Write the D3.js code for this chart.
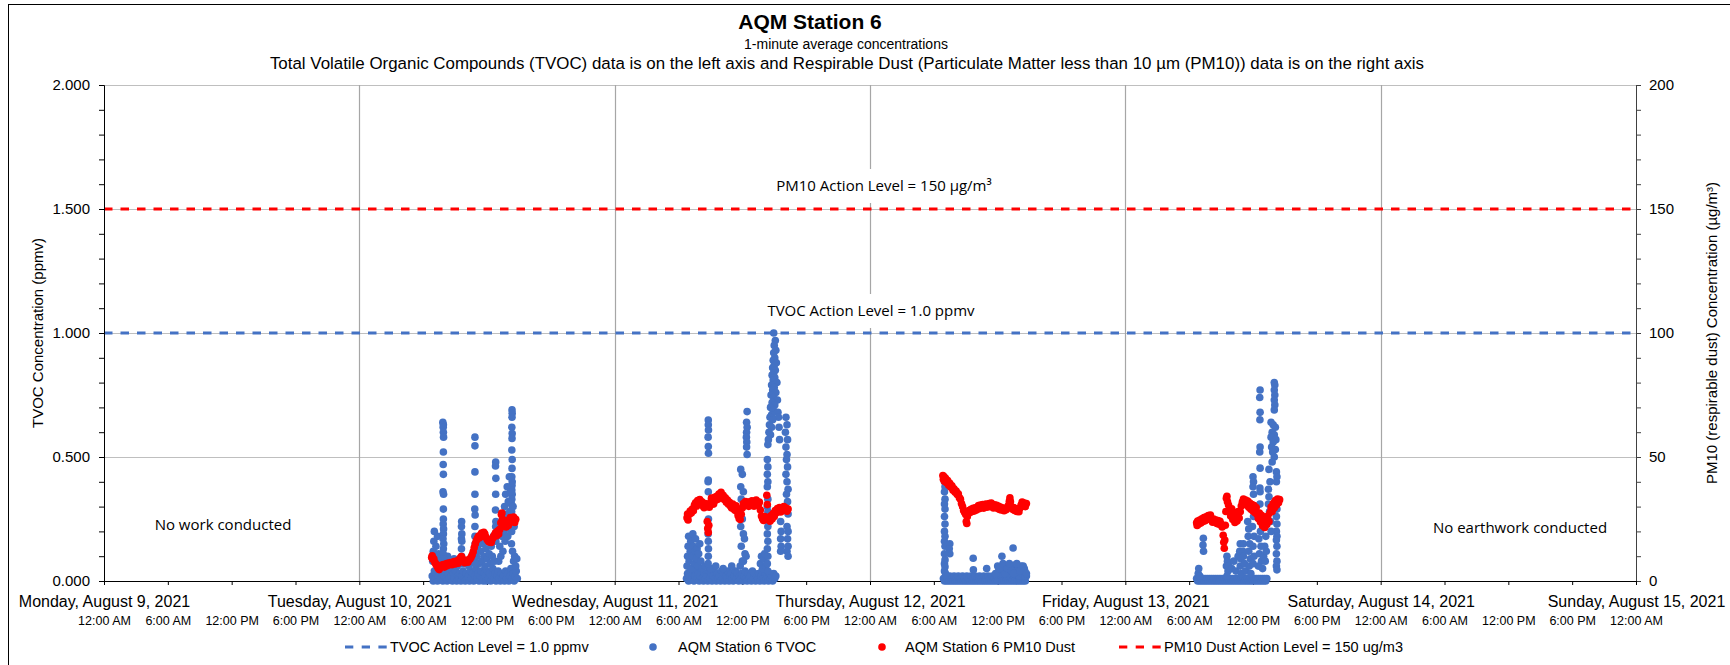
<!DOCTYPE html>
<html><head><meta charset="utf-8">
<script src="https://cdn.jsdelivr.net/npm/d3@7"></script>
<style>
html,body{margin:0;padding:0;background:#fff;}
svg{display:block;}
</style></head>
<body>
<svg id="chart" width="1730" height="665"></svg>
<script>
// ---------------- text ----------------
const chartTitle = "AQM Station 6";
const subTitle1 = "1-minute average concentrations";
const subTitle2 = "Total Volatile Organic Compounds (TVOC) data is on the left axis and Respirable Dust (Particulate Matter less than 10 µm (PM10)) data is on the right axis";
const leftAxisTitle = "TVOC Concentration (ppmv)";
const rightAxisTitle = "PM10 (respirable dust) Concentration (µg/m³)";
const legendLabels = ["TVOC Action Level = 1.0 ppmv", "AQM Station 6 TVOC", "AQM Station 6 PM10 Dust", "PM10 Dust Action Level = 150 ug/m3"];
const noteLeft = "No work conducted";
const noteRight = "No earthwork conducted";
const pm10LevelLabel = "PM10 Action Level = 150 µg/m³";
const tvocLevelLabel = "TVOC Action Level = 1.0 ppmv";

// ---------------- axes ----------------
const tvocTicks = [0, 0.5, 1.0, 1.5, 2.0];
const pm10Ticks = [0, 50, 100, 150, 200];
const tvocActionLevel = 1.0;
const pm10ActionLevel = 150;
const firstDay = 9, lastDay = 15; // August 2021

// ---------------- data: [hour of day, value] ----------------
const tvocAug10 = [
[6.85,0.02],[6.95,0.0],[7.05,0.04],[7.15,0.01],[7.25,0.03],[7.35,0.0],[7.45,0.02],[7.55,0.05],[7.65,0.01],[7.75,0.03],[7.85,0.0],[7.95,0.02],[8.05,0.04],[8.15,0.01],[8.25,0.0],[8.35,0.03],[8.45,0.01],[8.55,0.05],[8.65,0.02],[8.75,0.0],[8.85,0.03],[8.95,0.01],[9.05,0.04],[9.15,0.0],[9.25,0.02],[9.35,0.01],[9.45,0.03],[9.55,0.0],[9.65,0.02],[9.75,0.04],[9.85,0.01],[9.95,0.0],[10.05,0.03],[10.15,0.01],[10.25,0.02],[10.35,0.0],[10.45,0.04],[10.55,0.01],[10.65,0.03],[10.75,0.0],[10.85,0.02],[10.95,0.05],[11.05,0.01],[11.15,0.03],[11.25,0.0],[11.35,0.02],[11.45,0.04],[11.55,0.01],[11.65,0.0],[11.75,0.03],[11.85,0.02],[11.95,0.0],[12.05,0.04],[12.15,0.01],[12.25,0.03],[12.35,0.0],[12.45,0.02],[12.55,0.05],[12.65,0.01],[12.75,0.03],[12.85,0.0],[12.95,0.02],[13.05,0.04],[13.15,0.01],[13.25,0.0],[13.35,0.03],[13.45,0.01],[13.55,0.02],[13.65,0.0],[13.75,0.04],[13.85,0.01],[13.95,0.03],[14.05,0.0],[14.15,0.02],[14.25,0.05],[14.35,0.01],[14.45,0.03],[14.55,0.0],[14.65,0.02],[14.75,0.04],[14.85,0.01],
[6.9,0.08],[6.95,0.12],[7.0,0.16],[7.05,0.2],[7.1,0.1],[7.2,0.14],[7.3,0.07],[7.35,0.18],[7.45,0.11],[7.55,0.09],[8.05,0.08],[8.3,0.1],[8.6,0.07],[8.9,0.09],[9.2,0.06],[9.9,0.07],[10.3,0.06],[10.6,0.08],
[11.0,0.1],[11.1,0.14],[11.2,0.07],[11.3,0.17],[11.4,0.12],[11.5,0.08],[11.6,0.15],[11.7,0.1],[11.8,0.06],[11.9,0.13],[12.0,0.09],[12.1,0.16],[12.2,0.11],[12.3,0.07],[12.4,0.14],[12.5,0.1],[12.6,0.18],[12.7,0.08],
[7.85,0.64],[7.9,0.63],[7.88,0.62],[7.9,0.60],[7.92,0.58],[7.9,0.52],[7.88,0.47],[7.9,0.43],[7.87,0.36],[7.92,0.35],[7.9,0.29],[7.9,0.25],[7.88,0.23],[7.92,0.21],[7.9,0.19],[7.86,0.17],[7.94,0.15],[7.9,0.13],[7.88,0.11],[7.92,0.09],[7.9,0.07],
[9.62,0.24],[9.6,0.22],[9.64,0.19],[9.6,0.17],[9.63,0.16],[9.6,0.13],[9.62,0.1],[9.6,0.07],
[10.87,0.58],[10.87,0.545],[10.87,0.44],[10.87,0.35],[10.85,0.29],[10.88,0.266],[10.87,0.22],[10.86,0.18],[10.88,0.15],[10.87,0.12],[10.85,0.09],[10.88,0.07],
[12.82,0.48],[12.8,0.464],[12.84,0.414],[12.82,0.35],[12.8,0.286],[12.83,0.24],[12.82,0.22],[12.8,0.19],[12.84,0.16],
[14.35,0.69],[14.37,0.676],[14.35,0.66],[14.33,0.62],[14.36,0.595],[14.35,0.575],[14.34,0.528],[14.36,0.49],[14.35,0.454],[14.33,0.42],[14.36,0.4],[14.35,0.385],[14.33,0.367],[14.36,0.35],[14.34,0.33],[14.3,0.31],[14.36,0.3],[14.32,0.28],[14.38,0.26],[14.3,0.24],[14.36,0.22],[14.32,0.2],
[13.1,0.08],[13.2,0.14],[13.3,0.1],[13.4,0.18],[13.5,0.12],[13.55,0.25],[13.6,0.2],[13.65,0.3],[13.7,0.16],[13.75,0.35],[13.8,0.22],[13.85,0.27],[13.9,0.38],[13.95,0.18],[14.0,0.32],[14.05,0.24],[14.1,0.42],[14.15,0.28],[14.2,0.36],[14.25,0.2],[14.3,0.15],[14.4,0.12],[14.45,0.3],[14.5,0.08],[14.55,0.22],[14.6,0.1],[14.7,0.06],[14.8,0.09]
];
const tvocAug11 = [
[6.75,0.01],[6.85,0.03],[6.95,0.0],[7.05,0.02],[7.15,0.04],[7.25,0.01],[7.35,0.03],[7.45,0.0],[7.55,0.02],[7.65,0.05],[7.75,0.01],[7.85,0.03],[7.95,0.0],[8.05,0.02],[8.15,0.04],[8.25,0.01],[8.35,0.0],[8.45,0.03],[8.55,0.01],[8.65,0.02],[8.75,0.0],[8.85,0.04],[8.95,0.01],[9.05,0.03],[9.15,0.0],[9.25,0.02],[9.35,0.05],[9.45,0.01],[9.55,0.0],[9.65,0.03],[9.75,0.01],[9.85,0.02],[9.95,0.0],[10.05,0.04],[10.15,0.01],[10.25,0.03],[10.35,0.0],[10.45,0.02],[10.55,0.01],[10.65,0.04],[10.75,0.0],[10.85,0.02],[10.95,0.03],[11.05,0.01],[11.15,0.0],[11.25,0.02],[11.35,0.04],[11.45,0.01],[11.55,0.03],[11.65,0.0],[11.75,0.02],[11.85,0.01],[11.95,0.03],[12.05,0.0],[12.15,0.02],[12.25,0.04],[12.35,0.01],[12.45,0.0],[12.55,0.03],[12.65,0.01],[12.75,0.02],[12.85,0.0],[12.95,0.04],[13.05,0.01],[13.15,0.03],[13.25,0.0],[13.35,0.02],[13.45,0.01],[13.55,0.03],[13.65,0.0],[13.75,0.02],[13.85,0.04],[13.95,0.01],[14.05,0.0],[14.15,0.03],[14.25,0.01],[14.35,0.02],[14.45,0.0],[14.55,0.03],[14.65,0.01],[14.75,0.02],[14.85,0.0],[14.95,0.03],[15.05,0.01],[15.15,0.02],
[6.8,0.06],[6.85,0.1],[6.9,0.14],[6.95,0.18],[7.0,0.08],[7.1,0.12],[7.15,0.16],[7.2,0.05],[7.3,0.1],[7.35,0.19],[7.4,0.14],[7.5,0.07],[7.55,0.12],[7.6,0.17],[7.7,0.09],[7.75,0.13],[7.8,0.06],[7.9,0.11],[8.0,0.15],[8.1,0.08],[8.2,0.05],[8.5,0.06],[9.0,0.05],[9.5,0.06],[10.2,0.05],[11.0,0.06],
[13.7,0.07],[13.8,0.1],[13.9,0.05],[14.0,0.09],[14.1,0.11],[14.2,0.06],
[8.8,0.649],[8.8,0.63],[8.82,0.609],[8.78,0.58],[8.8,0.542],[8.82,0.515],[8.8,0.407],[8.78,0.4],[8.8,0.36],[8.8,0.3],[8.82,0.25],[8.78,0.19],[8.8,0.16],[8.82,0.13],[8.8,0.1],[8.78,0.07],
[12.45,0.683],[12.4,0.64],[12.45,0.62],[12.4,0.6],[12.38,0.58],[12.42,0.56],[12.4,0.54],[12.45,0.51],[11.85,0.45],[12.0,0.43],[11.85,0.38],[12.1,0.36],[11.9,0.33],[12.0,0.25],[11.85,0.22],[12.1,0.19],[12.2,0.17],[11.9,0.14],[12.25,0.11],[12.0,0.08],[11.8,0.06],[12.35,0.1],[12.1,0.08],
[14.95,1.0],[15.1,0.97],[15.0,0.95],[15.15,0.93],[14.95,0.92],[15.05,0.9],[14.9,0.89],[15.2,0.88],[15.0,0.87],[14.85,0.86],[15.1,0.85],[14.95,0.84],[14.8,0.83],[15.05,0.82],[14.9,0.81],[15.25,0.8],[14.75,0.79],[15.0,0.78],[14.85,0.77],[15.15,0.76],[14.7,0.75],[14.95,0.74],[15.3,0.73],[14.8,0.72],[15.05,0.71],[14.65,0.7],[14.9,0.69],[15.35,0.68],[14.75,0.67],[15.4,0.66],[14.6,0.66],[14.85,0.65],[14.55,0.63],[14.75,0.62],[15.45,0.62],[14.5,0.6],[14.65,0.59],[14.45,0.57],[15.5,0.57],[14.4,0.55],
[14.35,0.49],[14.4,0.46],[14.35,0.43],[14.4,0.4],[14.35,0.38],[14.4,0.33],[14.35,0.3],[14.4,0.28],[14.35,0.25],[14.4,0.22],[14.35,0.19],[14.4,0.16],[14.35,0.13],[14.4,0.1],[14.35,0.07],[14.4,0.04],
[16.1,0.66],[16.2,0.63],[16.05,0.6],[16.25,0.57],[16.1,0.54],[16.2,0.51],[16.15,0.49],[16.25,0.46],[16.1,0.43],[16.2,0.4],[16.3,0.37],[16.15,0.35],[16.25,0.32],[16.1,0.29],[16.3,0.27],[15.6,0.24],[16.2,0.22],[15.65,0.2],[16.3,0.2],[15.6,0.17],[16.25,0.17],[15.65,0.14],[16.3,0.14],[15.6,0.12],[16.2,0.12],[16.3,0.1]
];
const tvocAug12 = [
[6.9,0.01],[7.0,0.0],[7.1,0.02],[7.2,0.0],[7.3,0.01],[7.4,0.0],[7.5,0.02],[7.6,0.0],[7.7,0.01],[7.8,0.0],[7.9,0.02],[8.0,0.0],[8.1,0.01],[8.2,0.0],[8.3,0.02],[8.4,0.0],[8.5,0.01],[8.6,0.0],[8.7,0.02],[8.8,0.0],[8.9,0.01],[9.0,0.0],[9.1,0.02],[9.2,0.0],[9.3,0.01],[9.4,0.0],[9.5,0.02],[9.6,0.0],[9.7,0.01],[9.8,0.0],[9.9,0.02],[10.0,0.0],[10.1,0.01],[10.2,0.0],[10.3,0.02],[10.4,0.0],[10.5,0.01],[10.6,0.0],[10.7,0.02],[10.8,0.0],[10.9,0.01],[11.0,0.0],[11.1,0.02],[11.2,0.0],[11.3,0.01],[11.4,0.0],[11.5,0.02],[11.6,0.0],[11.7,0.01],[11.8,0.0],[11.9,0.02],[12.0,0.0],[12.1,0.01],[12.2,0.0],[12.3,0.02],[12.4,0.0],[12.5,0.01],[12.6,0.0],[12.7,0.02],[12.8,0.0],[12.9,0.01],[13.0,0.0],[13.1,0.02],[13.2,0.0],[13.3,0.01],[13.4,0.0],[13.5,0.02],[13.6,0.0],[13.7,0.01],[13.8,0.0],[13.9,0.02],[14.0,0.0],[14.1,0.01],[14.2,0.0],[14.3,0.02],[14.4,0.0],[14.5,0.01],[14.6,0.0],[14.7,0.02],
[6.95,0.42],[7.0,0.4],[7.05,0.38],[7.0,0.36],[7.05,0.33],[7.0,0.31],[7.05,0.29],[7.0,0.26],[7.05,0.23],[7.0,0.2],[7.05,0.18],[7.0,0.16],[7.05,0.14],[7.5,0.15],[7.45,0.13],[7.5,0.11],[7.0,0.11],[7.05,0.085],[7.0,0.07],[7.05,0.057],[7.0,0.04],[7.1,0.03],
[9.7,0.092],[9.72,0.045],[10.97,0.05],[12.4,0.1],[12.2,0.05],[12.3,0.03],[13.45,0.133],[13.6,0.064],[13.7,0.04],[13.9,0.05],[14.0,0.02],[14.2,0.06],[14.3,0.03],[14.5,0.05],[14.6,0.02],[12.6,0.04],[12.8,0.06],[13.0,0.03],[13.2,0.05],[11.8,0.03],[12.0,0.06],
[12.1,0.05],[12.5,0.07],[12.7,0.03],[12.9,0.05],[13.1,0.07],[13.3,0.04],[13.5,0.03],[13.8,0.07],[14.1,0.04],[14.4,0.06],[14.55,0.04],[14.7,0.03]
];
const tvocAug13 = [
[6.7,0.01],[6.8,0.0],[6.9,0.01],[7.0,0.0],[7.1,0.01],[7.2,0.0],[7.3,0.01],[7.4,0.0],[7.5,0.01],[7.6,0.0],[7.7,0.01],[7.8,0.0],[7.9,0.01],[8.0,0.0],[8.1,0.01],[8.2,0.0],[8.3,0.01],[8.4,0.0],[8.5,0.01],[8.6,0.0],[8.7,0.01],[8.8,0.0],[8.9,0.01],[9.0,0.0],[9.1,0.01],[9.2,0.0],[9.3,0.01],[9.4,0.0],[9.5,0.01],[9.6,0.0],[9.7,0.01],[9.8,0.0],[9.9,0.01],[10.0,0.0],[10.1,0.01],[10.2,0.0],[10.3,0.01],[10.4,0.0],[10.5,0.01],[10.6,0.0],[10.7,0.01],[10.8,0.0],[10.9,0.01],[11.0,0.0],[11.1,0.01],[11.2,0.0],[11.3,0.01],[11.4,0.0],[11.5,0.01],[11.6,0.0],[11.7,0.01],[11.8,0.0],[11.9,0.01],[12.0,0.0],[12.1,0.01],[12.2,0.0],[12.3,0.01],[12.4,0.0],[12.5,0.01],[12.6,0.0],[12.7,0.01],[12.8,0.0],[12.9,0.01],[13.0,0.0],[13.1,0.01],[13.2,0.0],[13.3,0.01],
[6.85,0.03],[7.0,0.02],[6.9,0.05],
[7.33,0.172],[7.3,0.145],[7.35,0.12],
[9.55,0.1],[9.6,0.08],[9.5,0.06],[9.65,0.04],[9.55,0.02],[9.7,0.06],
[10.0,0.05],[10.2,0.08],[10.4,0.04],[10.6,0.1],[10.8,0.15],[10.75,0.12],[10.85,0.09],[10.8,0.06],[10.9,0.03],
[11.1,0.15],[11.05,0.12],[11.1,0.1],[11.2,0.07],[11.3,0.04],
[11.5,0.24],[11.6,0.21],[11.55,0.18],[11.7,0.15],[11.6,0.12],[11.75,0.09],[11.65,0.06],[11.8,0.03],
[12.0,0.42],[12.05,0.4],[12.0,0.38],[12.05,0.35],[12.0,0.3],[12.05,0.26],[11.95,0.22],[12.1,0.18],[12.0,0.14],[12.1,0.1],[12.0,0.07],
[12.66,0.77],[12.64,0.74],[12.66,0.68],[12.65,0.65],[12.66,0.54],[12.64,0.52],[12.66,0.455],[12.65,0.375],[12.67,0.36],[12.65,0.31],[12.6,0.25],[12.7,0.2],[12.55,0.17],[12.75,0.14],[12.6,0.11],[12.8,0.08],[12.5,0.06],[12.9,0.05],[13.0,0.1],[13.1,0.14],[13.2,0.18],[13.15,0.08],[13.25,0.12],
[14.0,0.8],[14.05,0.79],[14.0,0.77],[14.05,0.75],[14.0,0.73],[14.05,0.71],[14.0,0.69],[13.7,0.64],[13.9,0.63],[14.1,0.62],[13.8,0.6],[14.0,0.59],[13.7,0.58],[14.15,0.57],[13.9,0.56],[13.75,0.54],[14.1,0.53],[13.85,0.52],[14.0,0.5],[13.8,0.48],[14.2,0.44],[14.25,0.42],[14.2,0.4],[13.45,0.37],[13.5,0.34],[13.45,0.31],[14.25,0.29],[14.2,0.26],[14.25,0.23],[14.2,0.2],[14.25,0.18],[14.2,0.165],[14.25,0.14],[14.2,0.11],[14.25,0.08],[14.2,0.06],[14.25,0.045],
[13.5,0.45],[13.6,0.4],[13.55,0.28],[13.65,0.24],[13.7,0.2]
];

const pm10Aug10 = [
[6.8,9.5],[6.85,10.2],[6.9,8.8],[7.0,9.0],[7.1,7.5],[7.2,6.8],[7.3,6.0],[7.4,5.2],[7.5,4.6],[7.6,5.5],[7.7,6.3],[7.8,5.9],[7.9,6.6],[8.0,5.6],[8.1,6.4],[8.2,7.0],[8.3,6.2],[8.4,7.2],[8.5,6.8],[8.6,7.4],[8.7,6.6],[8.8,7.3],[8.9,7.8],[9.0,6.9],[9.1,7.5],[9.2,8.1],[9.3,7.2],[9.4,8.6],[9.5,9.4],[9.6,9.9],[9.7,8.8],[9.8,8.0],[9.9,7.4],[10.0,7.9],[10.1,8.3],[10.2,7.6],[10.3,8.5],[10.4,8.9],[10.5,9.6],[10.6,10.5],[10.7,11.8],[10.8,13.5],[10.9,15.0],[11.0,16.3],[11.1,17.2],[11.2,18.0],[11.3,17.4],[11.4,18.6],[11.5,19.3],[11.6,18.7],[11.7,19.6],[11.8,18.9],[11.9,17.6],[12.0,16.8],[12.1,16.2],[12.2,15.7],[12.3,16.4],[12.4,15.5],[12.5,16.9],[12.6,17.8],[12.7,18.5],[12.8,19.4],[12.9,18.2],[13.0,20.1],[13.1,19.0],[13.2,20.8],[13.3,23.5],[13.35,26.8],[13.4,27.4],[13.45,25.0],[13.5,23.0],[13.6,22.2],[13.7,24.3],[13.8,21.8],[13.9,23.6],[14.0,22.4],[14.1,24.8],[14.2,25.6],[14.3,23.9],[14.4,24.6],[14.5,25.8],[14.6,23.6],[14.7,24.9]
];
const pm10Aug11 = [
[6.8,25.5],[6.85,27.0],[6.9,24.6],[7.0,26.8],[7.1,28.2],[7.2,27.4],[7.3,29.0],[7.4,28.3],[7.5,30.6],[7.6,31.5],[7.7,30.2],[7.8,32.4],[7.9,31.0],[8.0,32.8],[8.1,30.7],[8.2,31.9],[8.3,30.4],[8.4,29.6],[8.5,31.2],[8.6,30.0],[8.7,24.0],[8.75,21.2],[8.8,19.6],[8.85,22.5],[8.9,29.8],[9.0,31.6],[9.1,33.4],[9.2,32.1],[9.3,31.0],[9.4,33.8],[9.5,32.6],[9.6,34.2],[9.7,33.0],[9.8,35.1],[9.9,34.0],[10.0,35.8],[10.1,33.7],[10.2,34.6],[10.3,32.9],[10.4,33.5],[10.5,31.8],[10.6,32.6],[10.7,30.9],[10.8,31.7],[10.9,30.1],[11.0,29.4],[11.1,31.0],[11.2,29.8],[11.3,28.5],[11.4,30.3],[11.5,28.0],[11.6,26.4],[11.7,25.2],[11.8,24.8],[11.9,26.9],[12.0,29.5],[12.1,31.2],[12.2,30.4],[12.3,32.0],[12.4,30.8],[12.5,31.6],[12.6,30.1],[12.7,31.9],[12.8,30.6],[12.9,32.3],[13.0,31.1],[13.1,30.2],[13.2,31.5],[13.3,32.6],[13.4,31.0],[13.5,30.5],[13.6,31.8],[13.7,28.6],[13.8,26.2],[13.9,25.1],[14.0,24.4],[14.1,26.0],[14.2,25.3],[14.3,34.6],[14.35,30.8],[14.4,24.8],[14.5,25.7],[14.6,24.1],[14.7,26.3],[14.8,25.0],[14.9,27.2],[15.0,26.0],[15.1,28.4],[15.2,27.5],[15.3,29.2],[15.4,28.0],[15.5,29.6],[15.6,27.8],[15.7,29.0],[15.8,28.3],[15.9,30.0],[16.0,28.7],[16.1,29.4],[16.2,28.1],[16.3,29.0]
];
const pm10Aug12 = [
[6.85,42.5],[6.9,41.0],[6.95,42.0],[7.0,40.2],[7.1,41.4],[7.2,39.6],[7.3,40.5],[7.4,38.6],[7.5,39.4],[7.6,37.8],[7.7,38.4],[7.8,36.6],[7.9,37.2],[8.0,35.8],[8.1,36.3],[8.2,34.9],[8.3,35.2],[8.4,33.6],[8.5,33.0],[8.6,31.2],[8.7,30.0],[8.8,28.4],[8.9,27.6],[9.0,26.8],[9.05,24.0],[9.1,23.2],[9.15,26.0],[9.2,27.8],[9.3,28.4],[9.4,27.6],[9.5,28.9],[9.6,28.0],[9.7,29.3],[9.8,28.2],[9.9,29.5],[10.0,28.6],[10.1,29.8],[10.2,30.4],[10.3,29.2],[10.4,30.6],[10.5,29.6],[10.6,30.8],[10.7,29.4],[10.8,30.2],[10.9,31.0],[11.0,29.8],[11.1,30.6],[11.2,31.2],[11.3,30.0],[11.4,31.4],[11.5,30.3],[11.6,29.5],[11.7,30.7],[11.8,29.9],[11.9,30.5],[12.0,29.2],[12.1,30.1],[12.2,28.8],[12.3,29.7],[12.4,28.6],[12.5,29.4],[12.6,28.3],[12.7,29.1],[12.8,28.7],[12.9,29.6],[13.0,30.4],[13.1,32.2],[13.15,33.5],[13.2,32.0],[13.3,29.8],[13.4,28.9],[13.5,29.6],[13.6,28.4],[13.7,29.2],[13.8,28.0],[13.9,28.8],[14.0,27.9],[14.1,29.4],[14.2,30.6],[14.3,31.8],[14.4,30.2],[14.5,31.4],[14.6,30.0],[14.7,31.2]
];
const pm10Aug13 = [
[6.7,23.5],[6.75,22.4],[6.8,24.2],[6.9,23.0],[7.0,24.6],[7.1,23.4],[7.2,25.1],[7.3,24.0],[7.4,25.6],[7.5,24.3],[7.6,25.9],[7.7,24.8],[7.8,26.4],[7.9,25.2],[8.0,26.6],[8.1,24.9],[8.2,23.7],[8.3,25.0],[8.4,23.8],[8.5,24.6],[8.6,23.2],[8.7,24.4],[8.8,22.9],[8.9,24.1],[9.0,23.0],[9.1,21.8],[9.2,18.4],[9.25,15.6],[9.3,13.2],[9.35,16.5],[9.4,22.5],[9.45,28.0],[9.5,33.4],[9.55,34.2],[9.6,32.0],[9.7,30.6],[9.8,28.4],[9.9,26.2],[10.0,29.1],[10.1,24.8],[10.2,27.5],[10.3,23.6],[10.4,26.8],[10.5,24.2],[10.6,28.0],[10.7,25.4],[10.8,27.9],[10.9,30.2],[11.0,31.8],[11.1,33.0],[11.2,31.4],[11.3,32.6],[11.4,30.6],[11.5,32.2],[11.6,29.8],[11.7,31.4],[11.8,28.9],[11.9,30.8],[12.0,28.2],[12.1,30.4],[12.2,27.5],[12.3,29.6],[12.4,26.8],[12.5,25.2],[12.6,27.4],[12.7,23.8],[12.8,26.5],[12.9,22.3],[13.0,25.8],[13.1,21.6],[13.2,24.9],[13.3,22.8],[13.4,26.2],[13.5,24.0],[13.6,27.6],[13.7,29.8],[13.8,28.0],[13.9,31.2],[14.0,29.4],[14.1,32.4],[14.2,30.5],[14.3,33.0],[14.4,31.6],[14.5,32.8]
];

// ---------------- build ----------------
const toDate = (day, h) => new Date(2021, 7, day, 0, Math.round(h * 60));
const tvocSeries = [[10, tvocAug10], [11, tvocAug11], [12, tvocAug12], [13, tvocAug13]]
  .flatMap(([day, arr]) => arr.map(([h, v]) => ({t: toDate(day, h), v})));
const pm10Series = [[10, pm10Aug10], [11, pm10Aug11], [12, pm10Aug12], [13, pm10Aug13]]
  .flatMap(([day, arr]) => arr.map(([h, v]) => ({t: toDate(day, h), v})));

const FONT = "'Liberation Sans', Arial, sans-serif";
const NOTEFONT = "'Open Sans', 'Noto Sans', sans-serif";
const BLUE = "#4472C4", RED = "#FF0000";

const svg = d3.select("#chart");
const M = {left: 104, right: 1636, top: 85, bottom: 581};

const x = d3.scaleTime().domain([new Date(2021, 7, firstDay), new Date(2021, 7, lastDay)]).range([M.left, M.right]);
const yL = d3.scaleLinear().domain([0, 2]).range([M.bottom, M.top]);
const yR = d3.scaleLinear().domain([0, 200]).range([M.bottom, M.top]);

// outer chart border
svg.append("rect").attr("x", 8.5).attr("y", 4.5).attr("width", 1760).attr("height", 700)
  .attr("fill", "none").attr("stroke", "#000").attr("stroke-width", 1);

// titles
svg.append("text").attr("x", 810).attr("y", 29).attr("text-anchor", "middle")
  .attr("font-family", FONT).attr("font-size", 21).attr("font-weight", "bold").text(chartTitle);
svg.append("text").attr("x", 846).attr("y", 49).attr("text-anchor", "middle")
  .attr("font-family", FONT).attr("font-size", 14).text(subTitle1);
svg.append("text").attr("x", 847).attr("y", 69).attr("text-anchor", "middle")
  .attr("font-family", FONT).attr("font-size", 16.9).text(subTitle2);

// gridlines
const days = d3.timeDay.range(new Date(2021, 7, firstDay), d3.timeDay.offset(new Date(2021, 7, lastDay), 1));
svg.append("g").selectAll("line").data(tvocTicks.filter(d => d > 0)).join("line")
  .attr("x1", M.left).attr("x2", M.right).attr("y1", d => yL(d) + 0.5).attr("y2", d => yL(d) + 0.5)
  .attr("stroke", "#BFBFBF").attr("stroke-width", 1);
svg.append("g").selectAll("line").data(days.slice(1, -1)).join("line")
  .attr("x1", d => Math.round(x(d)) + 0.5).attr("x2", d => Math.round(x(d)) + 0.5)
  .attr("y1", M.top).attr("y2", M.bottom)
  .attr("stroke", "#A6A6A6").attr("stroke-width", 1.2);

// label boxes for action level labels (mask gridline)
const pmLab = svg.append("g");
const tvLab = svg.append("g");

// action level lines
const dashLine = d3.line().x(d => x(d[0])).y(d => d[1]);
const xEnds = x.domain();
svg.append("path").attr("d", dashLine(xEnds.map(t => [t, yL(tvocActionLevel)])))
  .attr("stroke", BLUE).attr("stroke-width", 3).attr("stroke-dasharray", "8.5,8").attr("fill", "none");
svg.append("path").attr("d", dashLine(xEnds.map(t => [t, yR(pm10ActionLevel)])))
  .attr("stroke", RED).attr("stroke-width", 3).attr("stroke-dasharray", "8.5,8").attr("fill", "none");

// axes
const minorL = d3.range(0, 2.0001, 0.1).map(d => +d.toFixed(1));
const axL = d3.axisLeft(yL).tickValues(minorL).tickSize(5).tickPadding(9)
  .tickFormat(d => tvocTicks.some(t => Math.abs(t - d) < 1e-6) ? d3.format(".3f")(d) : "");
const gL = svg.append("g").attr("transform", `translate(${M.left},0)`).call(axL);
gL.select(".domain").attr("stroke", "#000");
gL.selectAll(".tick line").attr("stroke", "#000");
gL.selectAll("text").attr("font-family", FONT).attr("font-size", 15).attr("fill", "#000");

const minorR = d3.range(0, 201, 10);
const axR = d3.axisRight(yR).tickValues(minorR).tickSize(5).tickPadding(8)
  .tickFormat(d => pm10Ticks.includes(d) ? d3.format("d")(d) : "");
const gR = svg.append("g").attr("transform", `translate(${M.right},0)`).call(axR);
gR.select(".domain").attr("stroke", "#404040");
gR.selectAll(".tick line").attr("stroke", "#404040");
gR.selectAll("text").attr("font-family", FONT).attr("font-size", 15).attr("fill", "#000");

const axB = d3.axisBottom(x).ticks(d3.timeHour.every(6)).tickSize(4)
  .tickFormat(d3.timeFormat("%-I:%M %p"));
const gB = svg.append("g").attr("transform", `translate(0,${M.bottom})`).call(axB);
gB.select(".domain").attr("stroke", "#000");
gB.selectAll(".tick line").attr("stroke", "#000");
gB.selectAll("text").attr("font-family", FONT).attr("font-size", 12.5).attr("fill", "#000")
  .attr("y", 40).attr("dy", "0.35em");

const axD = d3.axisBottom(x).ticks(d3.timeDay.every(1)).tickSize(0)
  .tickFormat(d3.timeFormat("%A, %B %-d, %Y"));
const gD = svg.append("g").attr("transform", `translate(0,${M.bottom})`).call(axD);
gD.select(".domain").remove();
gD.selectAll("text").attr("font-family", FONT).attr("font-size", 16).attr("fill", "#000")
  .attr("y", 20).attr("dy", "0.35em");

// axis titles
svg.append("text").attr("transform", `translate(38,${(M.top + M.bottom) / 2}) rotate(-90)`)
  .attr("text-anchor", "middle").attr("dy", "0.35em").attr("font-family", FONT).attr("font-size", 15)
  .text(leftAxisTitle);
svg.append("text").attr("transform", `translate(1712,${(M.top + M.bottom) / 2}) rotate(-90)`)
  .attr("text-anchor", "middle").attr("dy", "0.35em").attr("font-family", FONT).attr("font-size", 15)
  .text(rightAxisTitle);

// data points
svg.append("g").selectAll("circle").data(tvocSeries).join("circle")
  .attr("cx", d => x(d.t)).attr("cy", d => yL(d.v)).attr("r", 3.8).attr("fill", BLUE);
svg.append("g").selectAll("circle").data(pm10Series).join("circle")
  .attr("cx", d => x(d.t)).attr("cy", d => yR(d.v)).attr("r", 3.8).attr("fill", RED);

// action level labels
function boxedLabel(g, text, cx, cy) {
  const t = g.append("text").attr("x", cx).attr("y", cy).attr("dy", "0.35em").attr("text-anchor", "middle")
    .attr("font-family", NOTEFONT).attr("font-size", 15).text(text);
  const bb = t.node().getBBox();
  g.insert("rect", "text").attr("x", bb.x - 6).attr("y", cy - 17).attr("width", bb.width + 12).attr("height", 34)
    .attr("fill", "#fff");
}
boxedLabel(pmLab, pm10LevelLabel, 884, yR(pm10ActionLevel) - 23);
boxedLabel(tvLab, tvocLevelLabel, 871, yL(tvocActionLevel) - 22);

// notes
svg.append("text").attr("x", 223).attr("y", 525).attr("dy", "0.35em").attr("text-anchor", "middle")
  .attr("font-family", NOTEFONT).attr("font-size", 15).text(noteLeft);
svg.append("text").attr("x", 1520).attr("y", 528).attr("dy", "0.35em").attr("text-anchor", "middle")
  .attr("font-family", NOTEFONT).attr("font-size", 15).text(noteRight);

// legend
const LY = 647;
const lg = svg.append("g").attr("font-family", FONT).attr("font-size", 14.5);
lg.append("line").attr("x1", 345).attr("x2", 387).attr("y1", LY).attr("y2", LY)
  .attr("stroke", BLUE).attr("stroke-width", 3).attr("stroke-dasharray", "8.3,8.4");
lg.append("text").attr("x", 390).attr("y", LY).attr("dy", "0.35em").text(legendLabels[0]);
lg.append("circle").attr("cx", 653).attr("cy", LY).attr("r", 3.8).attr("fill", BLUE);
lg.append("text").attr("x", 678).attr("y", LY).attr("dy", "0.35em").text(legendLabels[1]);
lg.append("circle").attr("cx", 882).attr("cy", LY).attr("r", 3.8).attr("fill", RED);
lg.append("text").attr("x", 905).attr("y", LY).attr("dy", "0.35em").text(legendLabels[2]);
lg.append("line").attr("x1", 1119).attr("x2", 1161).attr("y1", LY).attr("y2", LY)
  .attr("stroke", RED).attr("stroke-width", 3).attr("stroke-dasharray", "8.3,8.4");
lg.append("text").attr("x", 1164).attr("y", LY).attr("dy", "0.35em").text(legendLabels[3]);
</script>
</body></html>
